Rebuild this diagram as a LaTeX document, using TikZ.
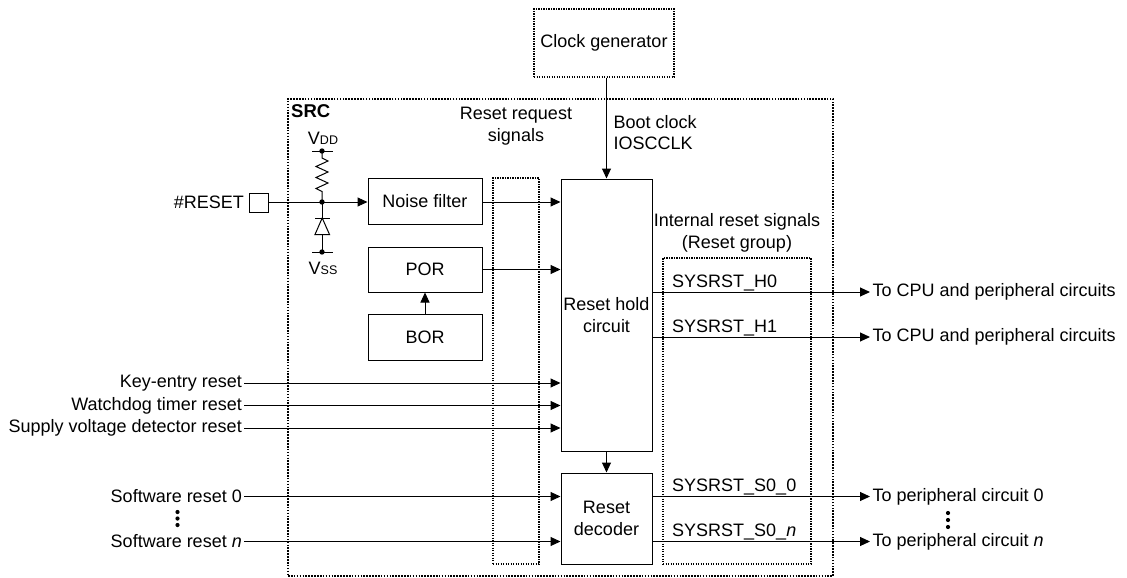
\documentclass[tikz,border=0pt]{standalone}
\usepackage{fontspec}
\setmainfont{Liberation Sans}
\usetikzlibrary{positioning,arrows.meta}

\tikzset{
	blockshape/.style={draw, line width=1pt, inner sep=0pt, align=center},
	groupshape/.style={draw, line width=1.2pt, dash pattern=on 1.2pt off 1.3pt, inner sep=0pt},
	sig/.style={line width=1pt, -{Triangle[length=10pt, width=9pt]}},
	wire/.style={line width=1pt},
}

\begin{document}
\begin{tikzpicture}[
		x=1pt, y=-1pt,
		font=\fontsize{18}{21.5}\selectfont,
	]
		\useasboundingbox (0,0) rectangle (1127,578);

		% outer frame and groups
		\node [groupshape, line width=1.8pt, dash pattern=on 1.6pt off 1.3pt, minimum width=545, minimum height=477] (src) at (560.5,337.5) {};
		\node [anchor=west, inner sep=1pt, font=\fontsize{18.5}{22}\selectfont\bfseries] (srclabel) at (290,111.5) {SRC};
		\node [groupshape, minimum width=140, minimum height=68] (clk) at (604,43) {Clock generator};
		\node [groupshape, minimum width=46, minimum height=386] (req) at (516,371) {};
		\node [align=center] (reqlabel) at (516,126) {Reset request\\signals};
		\node [groupshape, minimum width=148, minimum height=306] (grp) at (737,411) {};
		\node [align=center] (grplabel) at (737,233) {Internal reset signals\\(Reset group)};

		% blocks
		\node [blockshape, minimum width=114, minimum height=46] (nf) at (425,201) {Noise filter};
		\node [blockshape, minimum width=114, minimum height=45] (por) at (425,269.5) {POR};
		\node [blockshape, minimum width=114, minimum height=46] (bor) at (425,337) {BOR};
		\node [blockshape, minimum width=91, minimum height=272] (hold) at (606.5,315) {Reset hold\\circuit};
		\node [blockshape, minimum width=91, minimum height=91] (dec) at (606.5,518.5) {Reset\\decoder};

		% reset pin
		\node [anchor=east, inner sep=2pt] (resetlabel) at (246,202) {\#RESET};
		\node [draw, line width=1pt, minimum size=19, inner sep=0pt] (pad) at (258.5,203) {};
		\coordinate (vdd) at (322,151);
		\coordinate (vss) at (322,252);
		\coordinate (jn) at (322,202);
		\node (vddlabel) at (323,138) {V{\fontsize{12.5}{14}\selectfont DD}};
		\node (vsslabel) at (323,268) {V{\fontsize{12.5}{14}\selectfont SS}};

		\draw [wire] (312,151) -- (333,151);
		\draw [wire] (312,252) -- (333,252);
		\draw [wire, line join=miter] (vdd) -- (322,158) -- (328,161) -- (316,166.5) -- (328,172) -- (316,177.5) -- (328,183) -- (316,188.5) -- (322,191.5) -- (jn);
		\draw [wire] (jn) -- (322,218);
		\draw [wire] (315,218) -- (329.5,218);
		\draw [wire, line join=miter] (322.2,218) -- (315,234.5) -- (329.5,234.5) -- cycle;
		\draw [wire] (322,234.5) -- (vss);
		\fill (vdd) circle (2.7);
		\fill (vss) circle (2.7);
		\fill (jn) circle (2.7);
		\draw [sig] (pad.east |- jn) -- (nf.west |- jn);

		% clock
		\draw [sig] (clk.south -| hold.north) -- (hold.north);
		\node [anchor=west, align=left] (clklabel) at (610,132.5) {Boot clock\\IOSCCLK};

		% request signals
		\draw [sig] (nf.east |- jn) -- (hold.west |- jn);
		\draw [sig] (por.east) -- (hold.west |- por.east);
		\draw [sig] (bor.north) -- (por.south);
		\draw [sig] (hold.south) -- (dec.north);

		\node [anchor=east, inner sep=2pt] (keyin) at (244,383) {Key-entry reset};
		\node [anchor=east, inner sep=2pt] (wdtin) at (244,405.5) {Watchdog timer reset};
		\node [anchor=east, inner sep=2pt] (svdin) at (244,428) {Supply voltage detector reset};
		\node [anchor=east, inner sep=2pt] (sw0in) at (244,496.5) {Software reset 0};
		\node [anchor=east, inner sep=2pt] (swnin) at (244,541.5) {Software reset \textit{n}};
		\foreach \sname in {keyin, wdtin, svdin} {
			\draw [sig] (\sname.east) -- (\sname.east -| hold.west);
		}
		\foreach \sname in {sw0in, swnin} {
			\draw [sig] (\sname.east) -- (\sname.east -| dec.west);
		}
		\foreach \ypos in {512, 518.5, 525} {
			\fill (177.5,\ypos) circle (2.1);
		}

		% internal reset signals
		\coordinate (h0) at (870,292);
		\coordinate (h1) at (870,337);
		\coordinate (s00) at (870,496.5);
		\coordinate (s0n) at (870,541.5);
		\draw [sig] (hold.east |- h0) -- (h0) node [anchor=west, inner sep=2pt] (h0out) {To CPU and peripheral circuits};
		\draw [sig] (hold.east |- h1) -- (h1) node [anchor=west, inner sep=2pt] (h1out) {To CPU and peripheral circuits};
		\draw [sig] (dec.east |- s00) -- (s00) node [anchor=west, inner sep=2pt] (s00out) {To peripheral circuit 0};
		\draw [sig] (dec.east |- s0n) -- (s0n) node [anchor=west, inner sep=2pt] (s0nout) {To peripheral circuit \textit{n}};
		\node [anchor=base west, inner sep=0pt] (h0label) at (672,287) {SYSRST\_H0};
		\node [anchor=base west, inner sep=0pt] (h1label) at (672,332) {SYSRST\_H1};
		\node [anchor=base west, inner sep=0pt] (s00label) at (672,491.5) {SYSRST\_S0\_0};
		\node [anchor=base west, inner sep=0pt] (s0nlabel) at (672,536.5) {SYSRST\_S0\_\textit{n}};
		\foreach \ypos in {513, 520, 527} {
			\fill (948,\ypos) circle (2.1);
		}
	\end{tikzpicture}
\end{document}
